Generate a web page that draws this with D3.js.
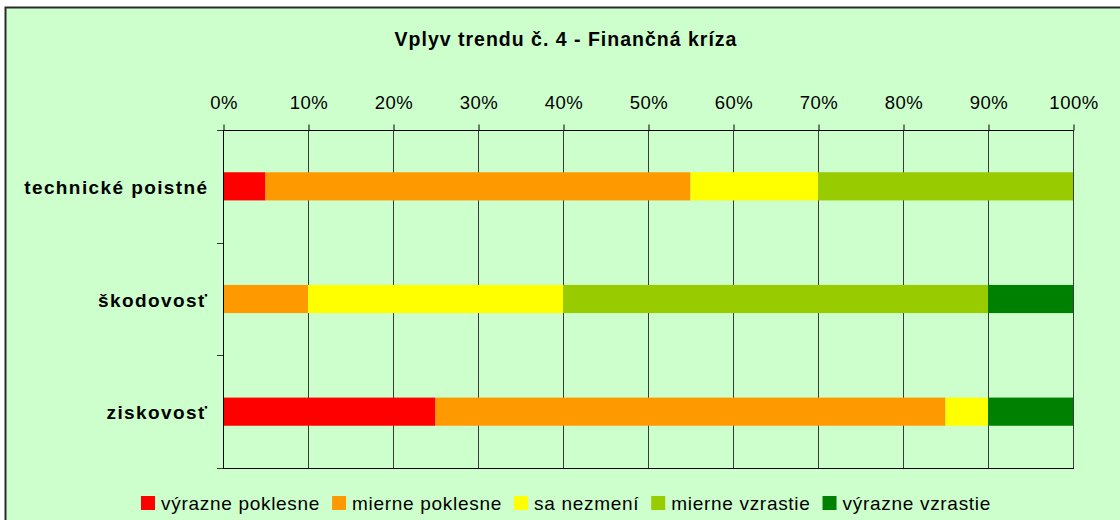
<!DOCTYPE html>
<html><head><meta charset="utf-8">
<script src="https://cdn.jsdelivr.net/npm/d3@7"></script>
<style>
html,body{margin:0;padding:0;background:#fff;}
svg{display:block;font-family:"Liberation Sans",Arial,sans-serif;}
</style></head>
<body><svg id="c" width="1120" height="520"></svg>
<script>
const title = "Vplyv trendu č. 4 - Finančná kríza";
const categories = ["technické poistné", "škodovosť", "ziskovosť"];
const seriesNames = ["výrazne poklesne", "mierne poklesne", "sa nezmení", "mierne vzrastie", "výrazne vzrastie"];
const seriesColors = ["#FF0000", "#FF9900", "#FFFF00", "#99CC00", "#008000"];
const vyraznePoklesne = [5, 0, 25];
const miernePoklesne = [50, 10, 60];
const saNezmeni = [15, 30, 5];
const mierneVzrastie = [30, 50, 0];
const vyrazneVzrastie = [0, 10, 10];
const tickValues = [0, 10, 20, 30, 40, 50, 60, 70, 80, 90, 100];

const seriesValues = [vyraznePoklesne, miernePoklesne, saNezmeni, mierneVzrastie, vyrazneVzrastie];
const rows = categories.map((c, i) => {
  const r = {cat: c};
  seriesNames.forEach((s, j) => r[s] = seriesValues[j][i]);
  return r;
});
const stacked = d3.stack().keys(seriesNames)(rows);

const svg = d3.select("#c");
svg.append("rect").attr("x", 0).attr("y", 0).attr("width", 1120).attr("height", 520).attr("fill", "#fff");
svg.append("rect").attr("x", 5.5).attr("y", 7.5).attr("width", 1130).attr("height", 530)
  .attr("fill", "#CCFFCC").attr("stroke", "#2b2b2b").attr("stroke-width", 2);

const L = 223, R = 1073, T = 130, B = 468;
const x = d3.scaleLinear().domain([0, 100]).range([L, R]);
const yb = d3.scaleBand().domain(categories).range([T, B]).paddingInner(0.75).paddingOuter(0.375);

// title
svg.append("text").attr("x", 566).attr("y", 46).attr("text-anchor", "middle")
  .attr("font-size", 19.5).attr("font-weight", "bold").attr("letter-spacing", "1px")
  .attr("fill", "#000").text(title);

// gridlines
svg.append("g").selectAll("line").data(tickValues.filter(v => v > 0)).join("line")
  .attr("x1", d => x(d) + 0.5).attr("x2", d => x(d) + 0.5)
  .attr("y1", T).attr("y2", B).attr("stroke", "#3a3a3a").attr("stroke-width", 1);

// bars
svg.append("g").selectAll("g").data(stacked).join("g")
  .attr("fill", (d, i) => seriesColors[i])
  .selectAll("rect").data(d => d).join("rect")
  .attr("x", d => x(d[0])).attr("width", d => x(d[1]) - x(d[0]))
  .attr("y", d => yb(d.data.cat)).attr("height", yb.bandwidth());

// top axis
const xAxis = d3.axisTop(x).tickValues(tickValues).tickFormat(d => d + "%").tickSize(6).tickPadding(16);
const gx = svg.append("g").attr("transform", `translate(0.5,${T + 0.5})`).call(xAxis);
gx.select(".domain").attr("stroke", "#000").attr("d", `M${L - 6 - 0.5},0H${R}`);
gx.selectAll(".tick line").attr("stroke", "#000");
gx.selectAll(".tick text").attr("font-size", 18.5).attr("letter-spacing", "0.5px").attr("fill", "#000")
  .attr("font-family", "Liberation Sans, Arial, sans-serif");

// left category axis with boundary ticks
const yEdges = [T, T + (B - T) / 3, T + 2 * (B - T) / 3, B];
svg.append("line").attr("x1", L + 0.5).attr("x2", L + 0.5).attr("y1", T).attr("y2", B + 0.5).attr("stroke", "#000");
svg.append("g").selectAll("line").data(yEdges).join("line")
  .attr("x1", L - 6).attr("x2", L).attr("y1", d => Math.round(d) + 0.5).attr("y2", d => Math.round(d) + 0.5)
  .attr("stroke", "#333");
svg.append("line").attr("x1", L).attr("x2", R + 1).attr("y1", B + 0.5).attr("y2", B + 0.5).attr("stroke", "#000");
const yAxis = d3.axisLeft(yb).tickSize(0).tickPadding(0);
const gy = svg.append("g").attr("transform", `translate(208.5,0)`).call(yAxis);
gy.select(".domain").remove();
gy.selectAll(".tick text").attr("font-size", 19).attr("font-weight", "bold").attr("letter-spacing", "1.4px")
  .attr("fill", "#000").attr("font-family", "Liberation Sans, Arial, sans-serif").attr("dy", "0.4em");

// legend
const lg = svg.append("g");
const items = lg.selectAll("g").data(seriesNames).join("g");
items.append("rect").attr("width", 14).attr("height", 14).attr("y", -14).attr("fill", (d, i) => seriesColors[i]);
items.append("text").attr("x", 20).attr("y", 0).attr("font-size", 19).attr("letter-spacing", "0.7px")
  .attr("fill", "#000").text(d => d);
let cx = 0;
items.each(function () {
  const g = d3.select(this);
  g.attr("transform", `translate(${cx},510)`);
  cx += 20 + g.select("text").node().getComputedTextLength() + 12;
});
const total = cx - 12;
lg.attr("transform", `translate(${566 - total / 2},0)`);
</script></body></html>
